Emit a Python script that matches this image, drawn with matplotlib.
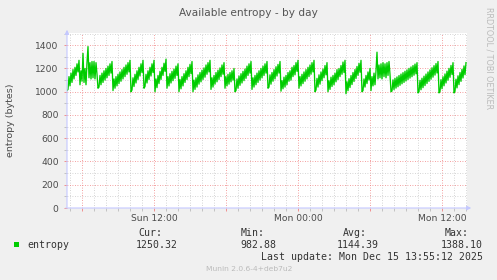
import matplotlib
matplotlib.use("Agg")
import matplotlib.pyplot as plt
import matplotlib.dates as mdates
from matplotlib.ticker import MultipleLocator, FuncFormatter
import numpy as np

# 5-minute samples starting Sun 2025-12-14 04:45
START = np.datetime64("2025-12-14T04:45")
STEP_MIN = 5

entropy_sun_early = [
    1010, 1020, 1130, 1050, 1160, 1080, 1190, 1110, 1210, 1140, 1240, 1170, 1270,
    1060, 1180, 1090, 1330, 1080, 1200, 1060, 1250, 1388.10, 1120, 1250, 1110, 1260,
    1120, 1260, 1110, 1250, 1150,
    1030, 1040, 1140, 1060, 1160, 1080, 1180, 1100, 1200, 1120, 1220, 1140, 1240, 1160, 1260,
    1010, 1110, 1030, 1130, 1050, 1150, 1070, 1170, 1090, 1190, 1110, 1210, 1130, 1230,
    1150, 1250, 1170, 1270,
]
entropy_sun_midday = [
    1000, 1015, 1120, 1045, 1150, 1075, 1180, 1105, 1210, 1135, 1240, 1165, 1270,
    1030, 1045, 1150, 1075, 1180, 1105, 1210, 1135, 1240, 1165, 1270,
    1000, 1110, 1035, 1140, 1070, 1175, 1105, 1210, 1140, 1245, 1175, 1280,
    1030, 1130, 1050, 1155, 1075, 1175, 1095, 1195, 1115, 1220, 1140, 1240,
    1000, 1105, 1025, 1130, 1050, 1155, 1080, 1180, 1105, 1210, 1130, 1235, 1155, 1260,
]
entropy_sun_evening = [
    1000, 1100, 1020, 1120, 1040, 1145, 1065, 1165, 1085, 1185, 1105, 1205, 1125, 1230,
    1150, 1250, 1170, 1270,
    1020, 1120, 1040, 1140, 1065, 1165, 1085, 1185, 1105, 1205, 1130, 1230, 1150, 1250,
    1030, 1130, 1050, 1150, 1065, 1165, 1085, 1180, 1100, 1200,
    1000, 1010, 1110, 1030, 1135, 1055, 1155, 1075, 1175, 1095, 1195, 1115, 1220, 1140,
    1240, 1160, 1260,
    1020, 1120, 1040, 1140, 1060, 1160, 1080, 1180, 1100, 1200, 1120, 1220, 1140, 1240,
    1160, 1260,
    1030, 1040, 1145, 1065, 1165, 1090, 1190, 1110, 1215, 1135, 1235, 1160, 1260,
    1005, 1095, 1025, 1125, 1040, 1140, 1060, 1165, 1090, 1180, 1100, 1210, 1130, 1225,
    1145, 1250, 1175, 1270,
]
entropy_mon_night = [
    1030, 1130, 1050, 1150, 1070, 1170, 1090, 1190, 1110, 1210, 1130, 1230, 1150, 1250,
    1170, 1270,
    1000, 1015, 1115, 1040, 1145, 1065, 1170, 1095, 1195, 1120, 1225, 1145, 1250,
    1000, 1095, 1020, 1125, 1045, 1140, 1060, 1160, 1085, 1190, 1105, 1200, 1130, 1225,
    1150, 1255, 1165, 1270,
    982.88, 1086, 1009, 1112, 1036, 1139, 1062, 1165, 1088, 1191, 1114, 1217, 1141, 1244,
    1167, 1270,
    1000, 1010, 1110, 1040, 1140, 1070, 1170, 1100, 1200,
    1010, 1130, 1050, 1160, 1060, 1180, 1340, 1110, 1230, 1120, 1240, 1110, 1250, 1130,
    1240, 1120, 1250, 1140, 1260, 1150,
]
entropy_mon_morning = [
    1000, 1006, 1102, 1018, 1115, 1031, 1127, 1043, 1139, 1055, 1152, 1068, 1164, 1080,
    1176, 1092, 1188, 1105, 1201, 1117, 1213, 1129, 1225, 1142, 1238, 1154, 1250,
    990, 999, 1098, 1017, 1116, 1035, 1134, 1053, 1152, 1071, 1170, 1089, 1188, 1107,
    1206, 1125, 1224, 1143, 1242, 1161, 1260,
    990, 1002, 1104, 1026, 1129, 1051, 1153, 1075, 1177, 1099, 1201, 1124, 1226, 1148, 1250,
    990, 1004, 1108, 1033, 1137, 1061, 1165, 1089, 1193, 1118, 1222, 1146, 1250.32,
]

stat_names = ["Cur:", "Min:", "Avg:", "Max:"]
stat_values = ["1250.32", "982.88", "1144.39", "1388.10"]

BG = "#F0F0F0"
TXT = "#4a4a4a"
GREEN = "#00CC00"
AXIS_BLUE = "#C4C8FF"

entropy = np.array(entropy_sun_early + entropy_sun_midday + entropy_sun_evening
                   + entropy_mon_night + entropy_mon_morning)
n = len(entropy)
times = START + np.arange(n) * np.timedelta64(STEP_MIN, "m")
t_end = START + n * np.timedelta64(STEP_MIN, "m")

W, H = 497, 280
fig = plt.figure(figsize=(W / 100, H / 100), dpi=100, facecolor=BG)
ax = fig.add_axes([67 / W, 1 - 208 / H, 400 / W, 175 / H])
ax.set_facecolor("white")

ax.plot(times, entropy, color=GREEN, linewidth=0.95, zorder=3)

ax.set_xlim(START.astype("datetime64[s]").astype(object), t_end.astype("datetime64[s]").astype(object))
ax.set_ylim(0, 1505)

ax.xaxis.set_major_locator(mdates.HourLocator(byhour=[0, 6, 12, 18]))
ax.xaxis.set_minor_locator(mdates.HourLocator())


def fmt_x(v, pos):
    d = mdates.num2date(v)
    if d.hour in (0, 12):
        return d.strftime("%a %H:%M")
    return ""


ax.xaxis.set_major_formatter(FuncFormatter(fmt_x))
ax.yaxis.set_major_locator(MultipleLocator(200))
ax.yaxis.set_minor_locator(MultipleLocator(100))

ax.grid(which="minor", color="#C8C8C8", linestyle=(0, (1, 2)), linewidth=0.6, zorder=1)
ax.grid(which="major", color="#F08080", linestyle=(0, (1, 2)), linewidth=0.6, zorder=2)

for s in ax.spines.values():
    s.set_visible(False)

ax.tick_params(which="both", length=2, width=0.6, labelsize=6.6, labelcolor=TXT)
ax.tick_params(which="major", color="#F08080")
ax.tick_params(which="minor", color="#BBBBBB")
ax.tick_params(axis="x", pad=2)
ax.tick_params(axis="y", pad=4)

fig.text(11 / W, 1 - 120 / H, "entropy (bytes)", rotation=90, ha="center", va="center",
         fontsize=6.8, color=TXT)

# axis lines with arrows (rrdtool style)
fig.add_artist(matplotlib.patches.FancyArrowPatch(
    (67 / W, 1 - 210 / H), (67 / W, 1 - 27 / H), transform=fig.transFigure,
    arrowstyle="-|>", mutation_scale=6, color=AXIS_BLUE, linewidth=0.8))
fig.add_artist(matplotlib.patches.FancyArrowPatch(
    (63 / W, 1 - 208 / H), (474 / W, 1 - 208 / H), transform=fig.transFigure,
    arrowstyle="-|>", mutation_scale=6, color=AXIS_BLUE, linewidth=0.8))

fig.text(248 / W, 1 - 13 / H, "Available entropy - by day", ha="center", va="center",
         fontsize=7.6, color="#555555")
fig.text(489 / W, 1 - 7 / H, "RRDTOOL / TOBI OETIKER", rotation=270, ha="center", va="top",
         fontsize=5.8, color="#BBBBBB")

mono = "DejaVu Sans Mono"
fig.patches.append(matplotlib.patches.Rectangle(
    (14 / W, 1 - 247 / H), 5 / W, 5 / H, transform=fig.transFigure,
    facecolor=GREEN, edgecolor="none"))
fig.text(27 / W, 1 - 245 / H, "entropy", ha="left", va="center", family=mono,
         fontsize=7.1, color="#333333")

name_right = [162, 265, 367, 469]
value_right = [178, 276, 379, 483]
for nm, val, xr1, xr2 in zip(stat_names, stat_values, name_right, value_right):
    fig.text(xr1 / W, 1 - 233 / H, nm, ha="right", va="center", family=mono,
             fontsize=7.1, color="#333333")
    fig.text(xr2 / W, 1 - 245.5 / H, val, ha="right", va="center", family=mono,
             fontsize=7.1, color="#333333")

fig.text(483 / W, 1 - 257.5 / H, "Last update: Mon Dec 15 13:55:12 2025", ha="right",
         va="center", family=mono, fontsize=7.1, color="#333333")
fig.text(249 / W, 1 - 269 / H, "Munin 2.0.6-4+deb7u2", ha="center", va="center",
         fontsize=5.4, color="#BBBBBB")

fig.savefig("out.png", dpi=100, facecolor=BG)
